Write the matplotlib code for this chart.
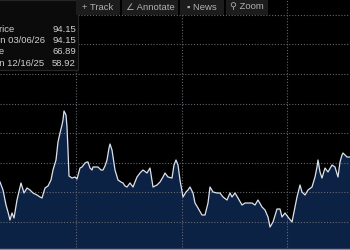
import matplotlib

matplotlib.use("Agg")
import matplotlib.pyplot as plt
from matplotlib.patches import Rectangle

plt.rcParams["font.family"] = ["Liberation Sans", "DejaVu Sans"]

# price series (day index, value)
days = [
    0, 3, 6, 8, 10, 12, 14, 17, 21, 24, 27, 30, 33, 37, 40, 42, 45, 48, 51, 53,
    56, 58, 60, 62, 63, 64, 66, 67, 68, 69, 72, 75, 77, 80, 82, 85, 87, 88, 90, 92,
    93, 95, 98, 101, 103, 105, 107, 109, 110, 112, 114, 115, 118, 121, 123, 125, 127, 130, 133, 135,
    137, 140, 143, 147, 150, 153, 157, 160, 163, 165, 168, 172, 174, 176, 178, 180, 183, 186, 188, 190,
    193, 195, 198, 202, 205, 208, 210, 213, 217, 220, 223, 227, 230, 232, 235, 238, 242, 245, 248, 252,
    255, 258, 262, 265, 268, 270, 273, 277, 280, 282, 285, 288, 292, 293, 297, 300, 302, 305, 308, 312,
    315, 317, 318, 320, 322, 325, 328, 332, 335, 338, 340, 342, 343, 347, 350,
]
prices = [
    53.51, 50.81, 45.74, 43.38, 40.68, 43.04, 41.35, 47.43, 53.18, 49.80, 51.49, 50.81, 49.80, 49.12, 48.45, 48.11, 51.49, 52.16, 54.19, 57.57,
    60.95, 67.03, 70.07, 72.77, 74.46, 77.50, 76.15, 72.09, 64.32, 55.54, 54.86, 55.20, 54.53, 58.24, 58.58, 59.93, 60.27, 60.27, 58.24, 57.57,
    58.58, 58.58, 58.58, 57.57, 57.57, 58.92, 60.95, 65.00, 66.35, 64.32, 59.93, 57.57, 54.19, 53.51, 53.18, 52.16, 51.82, 53.18, 51.82, 53.51,
    55.20, 56.55, 57.57, 56.55, 58.24, 51.82, 52.50, 53.51, 55.20, 56.55, 55.20, 54.86, 59.26, 60.95, 59.26, 54.19, 48.45, 50.14, 50.81, 51.82,
    49.80, 46.42, 44.73, 42.36, 42.36, 46.42, 51.82, 50.14, 49.80, 49.80, 48.45, 47.43, 49.80, 48.45, 49.80, 48.11, 45.74, 46.42, 46.42, 46.42,
    45.74, 47.43, 45.07, 44.05, 41.69, 38.31, 40.00, 44.39, 44.39, 41.69, 43.04, 41.69, 40.00, 41.69, 48.45, 52.50, 50.14, 49.12, 50.81, 51.82,
    55.20, 58.58, 60.95, 56.89, 54.86, 58.24, 56.89, 59.26, 58.58, 55.20, 60.27, 62.64, 63.31, 61.96, 61.96,
]

grid_values = [40, 50, 60, 70, 80, 90, 100, 110]
grid_days = [76, 182, 287]

info_labels = ["Last Price", "High on 03/06/26", "Average", "Low on 12/16/25"]
info_values = ["94.15", "94.15", "66.89", "58.92"]
tool_labels = ["+ Track", "\u2220 Annotate", "\u25aa News", "\u26b2 Zoom"]

W, H = 350, 250
fig = plt.figure(figsize=(3.5, 2.5), dpi=100, facecolor="black")
ax = fig.add_axes([0, 0, 1, 1], facecolor="black")

ymin, ymax = 30.54, 115.0
ax.fill_between(days, prices, ymin, color="#0c2244", lw=0, zorder=1)
for g in grid_values:
    ax.axhline(g, color="#62676e", lw=0.8, ls=(0, (1, 1.6)), zorder=2)
for d in grid_days:
    ax.axvline(d, color="#62676e", lw=0.8, ls=(0, (1, 1.6)), zorder=2)
ax.plot(days, prices, color="#dde2ea", lw=0.9, zorder=3)
ax.axhline(30.9, color="#8a9099", lw=1.0, zorder=4)

ax.set_xlim(0, 350)
ax.set_ylim(ymin, ymax)
ax.set_xticks([])
ax.set_yticks([])
for s in ax.spines.values():
    s.set_visible(False)


def fx(px):
    return px / W


def fy(py):
    return 1 - py / H


# legend box, top left (labels run off the left edge as in the screenshot)
fig.patches.append(Rectangle((fx(-2), fy(70)), fx(80), 70 / H, transform=fig.transFigure,
                             facecolor="#0b0b0b", edgecolor="#262626", lw=0.8, zorder=5))
label_x = [-27.5, -27, -30, -26]
for i, (lab, val) in enumerate(zip(info_labels, info_values)):
    yy = fy(29 + i * 11.5)
    fig.text(fx(label_x[i]), yy, lab, color="#d0d0d0", fontsize=6.8, va="center", ha="left", zorder=6)
    fig.text(fx(76), yy, val, color="#d0d0d0", fontsize=6.8, va="center", ha="right", zorder=6)

# toolbar buttons
buttons = [(76, 120), (122, 178), (180, 224), (226, 268)]
for (x0, x1), lab in zip(buttons, tool_labels):
    fig.patches.append(Rectangle((fx(x0), fy(15)), fx(x1 - x0), 15 / H, transform=fig.transFigure,
                                 facecolor="#1c1c1c", edgecolor="none", zorder=5))
    fig.text(fx((x0 + x1) / 2), fy(7), lab, color="#b0b0b0", fontsize=6.8,
             va="center", ha="center", zorder=6)

fig.savefig("out.png", dpi=100, facecolor="black")
